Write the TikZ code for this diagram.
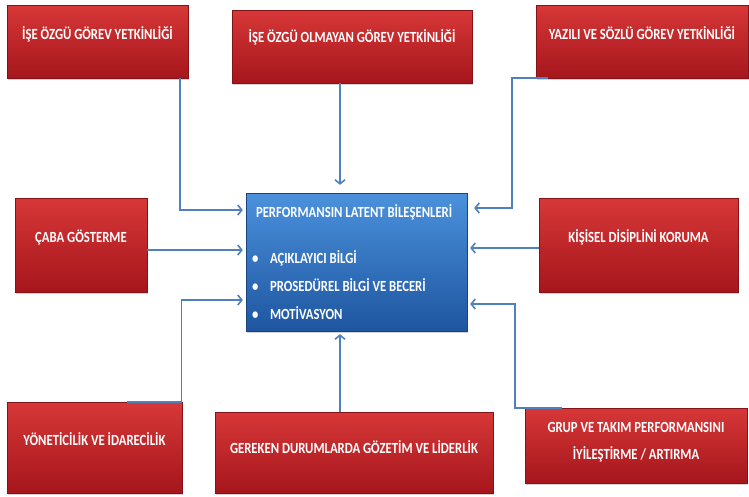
\documentclass[tikz,border=0pt]{standalone}
\usepackage{fontspec}
\setmainfont{Carlito}
\newfontfamily\boxfont{Carlito}[FakeStretch=0.82]
\usetikzlibrary{positioning,shadows,arrows.meta}

\definecolor{redtop}{RGB}{215,55,55}
\definecolor{redbot}{RGB}{165,22,28}
\definecolor{bluetop}{RGB}{75,145,220}
\definecolor{bluebot}{RGB}{30,85,160}
\definecolor{linkblue}{RGB}{79,129,189}

\newcommand{\latitem}{\makebox[18pt][l]{\textbullet}}

\tikzset{
  redbox/.style={rectangle, top color=redtop, bottom color=redbot, draw=redbot!80!black,
    text=white, align=center, text depth=17pt, font=\boxfont\bfseries\fontsize{15.5}{17}\selectfont,
    drop shadow={opacity=0.35, shadow xshift=1pt, shadow yshift=-2pt}},
  latbox/.style={rectangle, top color=bluetop, bottom color=bluebot, draw=bluebot!80!black,
    text=white, align=flush left, inner xsep=6pt, font=\boxfont\bfseries\fontsize{15.5}{28}\selectfont,
    drop shadow={opacity=0.35, shadow xshift=1pt, shadow yshift=-2pt}},
  conn/.style={->, draw=linkblue, line width=1.6pt, shorten >=3pt}
}

\begin{document}
\begin{tikzpicture}[on grid, >={Straight Barb[length=4pt,width=10pt]}]
\useasboundingbox (0,0) rectangle (749pt,-496pt);

\node[latbox, minimum width=221pt, minimum height=138pt, text width=209pt] (lat) at (356.5pt,-262pt)
  {\hspace*{4pt}PERFORMANSIN LATENT BİLEŞENLERİ\\[18pt]
   \latitem AÇIKLAYICI BİLGİ\\
   \latitem PROSEDÜREL BİLGİ VE BECERİ\\
   \latitem MOTİVASYON};

\node[redbox, minimum width=181pt, minimum height=73pt] (isegorev) [above left=220.5pt and 259pt of lat] {İŞE ÖZGÜ GÖREV YETKİNLİĞİ};
\node[redbox, minimum width=240pt, minimum height=73pt, text depth=21pt] (olmayan) [above left=215.5pt and 4.5pt of lat] {İŞE ÖZGÜ OLMAYAN GÖREV YETKİNLİĞİ};
\node[redbox, minimum width=212pt, minimum height=73pt] (yazili) [above right=220.5pt and 285.5pt of lat] {YAZILI VE SÖZLÜ GÖREV YETKİNLİĞİ};
\node[redbox, minimum width=132pt, minimum height=94pt] (caba) [above left=17pt and 275.5pt of lat] {ÇABA GÖSTERME};
\node[redbox, minimum width=199pt, minimum height=94pt] (kisisel) [above right=17pt and 282pt of lat] {KİŞİSEL DİSİPLİNİ KORUMA};
\node[redbox, minimum width=175pt, minimum height=91pt] (yonetici) [below left=185.5pt and 262pt of lat] {YÖNETİCİLİK VE İDARECİLİK};
\node[redbox, minimum width=278pt, minimum height=81pt, text depth=10pt] (gereken) [below left=190.5pt and 2.5pt of lat] {GEREKEN DURUMLARDA GÖZETİM VE LİDERLİK};
\node[redbox, minimum width=222pt, minimum height=75pt, text depth=9pt] (grup) [below right=183.5pt and 279.5pt of lat] {GRUP VE TAKIM PERFORMANSINI\\[10pt]İYİLEŞTİRME / ARTIRMA};

% top row
\draw[conn] ([xshift=-8pt]isegorev.south east) |- ([yshift=52pt]lat.west);
\draw[conn, shorten >=8pt] ([xshift=-12pt]olmayan.south) -- ([xshift=-16.5pt]lat.north);
\draw[conn, shorten >=7pt] ([xshift=12pt]yazili.south west) -- ++(-36pt,0) |- ([yshift=54pt]lat.east);

% middle row
\draw[conn] ([yshift=-5pt]caba.east) -- ([yshift=12pt]lat.west);
\draw[conn] ([yshift=-3pt]kisisel.west) -- ([yshift=14pt]lat.east);

% bottom row
\draw[conn] ([xshift=32pt]yonetici.north) -- ++(55pt,0) |- ([yshift=-38pt]lat.west);
\coordinate (gtop) at ([xshift=-14pt]gereken.north);
\draw[conn] (gtop) -- (gtop |- lat.south);
\draw[conn] ([xshift=37pt]grup.north west) -- ++(-47pt,0) |- ([yshift=-42pt]lat.east);
\end{tikzpicture}
\end{document}
